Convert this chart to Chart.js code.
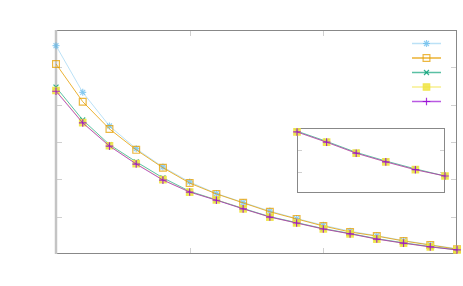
<!DOCTYPE html>
<html>
<head>
<meta charset="utf-8">
<script src="https://cdn.jsdelivr.net/npm/chart.js@4"></script>
<style>
  html, body { margin: 0; padding: 0; background: #fff; }
  #wrap { position: relative; width: 463px; height: 286px; }
  #main { position: absolute; left: 0; top: 0; }
  #inset { position: absolute; left: 291px; top: 122px; }
</style>
</head>
<body>
<div id="wrap">
  <canvas id="main" width="463" height="286"></canvas>
  <canvas id="inset" width="160" height="77"></canvas>
</div>
<script>
// data
const xValues = [0, 1, 2, 3, 4, 5, 6, 7, 8, 9, 10, 11, 12, 13, 14, 15];
const blueSeries   = [5.58, 4.33, 3.43, 2.82, 2.33, 1.93, 1.62, 1.38, 1.15, 0.95, 0.77, 0.61, 0.49, 0.36, 0.25, 0.14];
const orangeSeries = [5.09, 4.08, 3.35, 2.79, 2.31, 1.90, 1.61, 1.37, 1.13, 0.94, 0.75, 0.59, 0.48, 0.35, 0.24, 0.13];
const greenSeries  = [4.47, 3.59, 2.93, 2.47, 2.04, 1.68, 1.45, 1.22, 1.00, 0.84, 0.68, 0.55, 0.41, 0.30, 0.20, 0.11];
const yellowSeries = [4.38, 3.52, 2.90, 2.42, 1.99, 1.66, 1.45, 1.21, 0.99, 0.83, 0.67, 0.54, 0.40, 0.29, 0.19, 0.11];
const purpleSeries = [4.36, 3.51, 2.89, 2.41, 1.98, 1.66, 1.44, 1.21, 0.99, 0.83, 0.67, 0.54, 0.40, 0.29, 0.19, 0.11];
const xTicks = [5, 10];
const yTicks = [1, 2, 3, 4, 5];
const insetFrom = 10;
const insetYTicks = [0.16, 0.44];

function pts(vals, from) {
  from = from || 0;
  return vals.slice(from).map((v, i) => ({ x: xValues[i + from], y: v }));
}

const styles = [
  { line: 'rgba(86,180,233,0.4)',  mark: 'rgba(86,180,233,0.65)', style: 'star',     r: 3.5, fill: 'transparent' },
  { line: 'rgba(230,159,0,0.8)',   mark: 'rgba(230,159,0,0.75)',  style: 'rect',     r: 4.8, fill: 'transparent' },
  { line: 'rgba(0,158,115,0.65)',  mark: 'rgba(0,158,115,0.8)',   style: 'crossRot', r: 3.5, fill: 'transparent' },
  { line: 'rgba(240,228,66,0.6)',  mark: 'rgba(240,228,66,0.85)', style: 'rect',     r: 4.6, fill: 'rgba(240,228,66,0.85)' },
  { line: 'rgba(148,0,211,0.65)',  mark: 'rgba(148,0,211,0.8)',   style: 'cross',    r: 3.8, fill: 'transparent' }
];
const allSeries = [blueSeries, orangeSeries, greenSeries, yellowSeries, purpleSeries];

function makeSets(seriesIdx, from) {
  return seriesIdx.map(i => ({
    data: pts(allSeries[i], from),
    borderColor: styles[i].line,
    borderWidth: 1,
    pointStyle: styles[i].style,
    pointRadius: styles[i].r,
    pointBorderColor: styles[i].mark,
    pointBackgroundColor: styles[i].fill,
    pointBorderWidth: 1.2,
    tension: 0,
    clip: false,
    order: 5 - i
  }));
}

// frame with inward ticks, drawn before the datasets
function framePlugin(opts) {
  return {
    id: 'frame',
    beforeDatasetsDraw(chart) {
      const { ctx, chartArea: a, scales } = chart;
      ctx.save();
      ctx.lineWidth = 1;
      ctx.strokeStyle = '#d0d0d0';
      const tl = opts.tick;
      (opts.yTicks || []).forEach(v => {
        const y = Math.round(scales.y.getPixelForValue(v)) + 0.5;
        ctx.beginPath();
        ctx.moveTo(a.left, y); ctx.lineTo(a.left + tl, y);
        ctx.moveTo(a.right, y); ctx.lineTo(a.right - tl, y);
        ctx.stroke();
      });
      (opts.xTicks || []).forEach(v => {
        const x = Math.round(scales.x.getPixelForValue(v)) + 0.5;
        ctx.beginPath();
        ctx.moveTo(x, a.bottom); ctx.lineTo(x, a.bottom - tl);
        ctx.moveTo(x, a.top); ctx.lineTo(x, a.top + tl);
        ctx.stroke();
      });
      ctx.strokeStyle = '#888';
      ctx.beginPath();
      ctx.moveTo(a.left, a.top + 0.5); ctx.lineTo(a.right, a.top + 0.5);
      ctx.moveTo(a.right - 0.5, a.top); ctx.lineTo(a.right - 0.5, a.bottom);
      ctx.moveTo(a.left, a.bottom - 0.5); ctx.lineTo(a.right, a.bottom - 0.5);
      if (!opts.thickLeft) { ctx.moveTo(a.left + 0.5, a.top); ctx.lineTo(a.left + 0.5, a.bottom); }
      ctx.stroke();
      if (opts.thickLeft) {
        ctx.strokeStyle = '#c4c4c4';
        ctx.lineWidth = 2.5;
        ctx.beginPath();
        ctx.moveTo(a.left, a.top); ctx.lineTo(a.left, a.bottom);
        ctx.stroke();
      }
      ctx.restore();
    }
  };
}

// legend without text: short line plus marker for each series
const legendPlugin = {
  id: 'keys',
  afterDraw(chart) {
    const ctx = chart.ctx;
    const h = Chart.helpers;
    styles.forEach((s, i) => {
      const y = 43.5 + i * 14.5;
      ctx.save();
      ctx.strokeStyle = s.line;
      ctx.lineWidth = 1.5;
      ctx.beginPath();
      ctx.moveTo(412, y); ctx.lineTo(441, y);
      ctx.stroke();
      ctx.strokeStyle = s.mark;
      ctx.fillStyle = s.fill;
      ctx.lineWidth = 1.2;
      if (h && h.drawPoint) h.drawPoint(ctx, { pointStyle: s.style, radius: s.r, rotation: 0, borderWidth: 1.2 }, 426.5, y);
      ctx.restore();
    });
  }
};

const hiddenScales = {
  x: { type: 'linear', display: false },
  y: { type: 'linear', display: false }
};

new Chart(document.getElementById('main'), {
  type: 'line',
  data: { datasets: makeSets([0, 1, 2, 3, 4], 0) },
  options: {
    responsive: false,
    animation: false,
    layout: { padding: { left: 56, top: 30, right: 4, bottom: 32 } },
    plugins: { legend: { display: false }, tooltip: { enabled: false } },
    scales: {
      x: { type: 'linear', display: false, min: 0, max: 15 },
      y: { type: 'linear', display: false, min: 0, max: 6 }
    }
  },
  plugins: [framePlugin({ xTicks: xTicks, yTicks: yTicks, tick: 6, thickLeft: true }), legendPlugin]
});

new Chart(document.getElementById('inset'), {
  type: 'line',
  data: { datasets: makeSets([2, 3, 4], insetFrom) },
  options: {
    responsive: false,
    animation: false,
    layout: { padding: 6 },
    plugins: { legend: { display: false }, tooltip: { enabled: false } },
    scales: {
      x: { type: 'linear', display: false, min: 10, max: 15 },
      y: { type: 'linear', display: false, min: -0.106, max: 0.72 }
    }
  },
  plugins: [framePlugin({ yTicks: insetYTicks, tick: 5, thickLeft: false })]
});
</script>
</body>
</html>
